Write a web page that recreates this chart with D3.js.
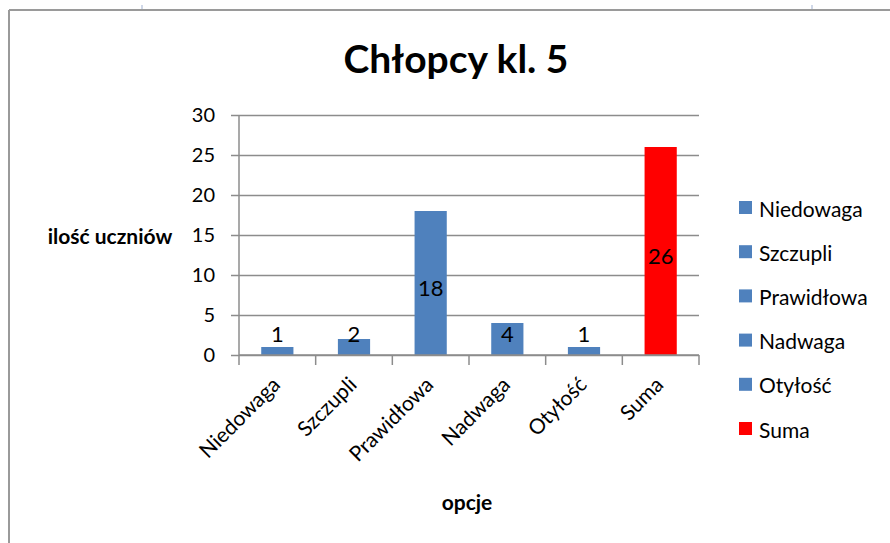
<!DOCTYPE html>
<html>
<head>
<meta charset="utf-8">
<script src="https://cdn.jsdelivr.net/npm/d3@7"></script>
<style>
  body { margin: 0; background: #fff; }
  text { font-family: Lato, "Open Sans", sans-serif; fill: #000; }
</style>
</head>
<body>
<div id="chart"></div>
<script>
// data
var categories = ["Niedowaga", "Szczupli", "Prawidłowa", "Nadwaga", "Otyłość", "Suma"];
var values = [1, 2, 18, 4, 1, 26];
var barColors = ["#4F81BD", "#4F81BD", "#4F81BD", "#4F81BD", "#4F81BD", "#FF0000"];
var yTicks = [0, 5, 10, 15, 20, 25, 30];

var svgWidth = 890;
var svgHeight = 543;

// plot area
var chartMargin = { top: 115, right: 191, bottom: 188, left: 239 };
var chartWidth = svgWidth - chartMargin.left - chartMargin.right;
var chartHeight = svgHeight - chartMargin.top - chartMargin.bottom;

var svg = d3.select("#chart")
    .append("svg")
    .attr("width", svgWidth)
    .attr("height", svgHeight);

// outer frame of the chart object (spreadsheet border)
svg.append("line")
    .attr("x1", 9).attr("x2", svgWidth).attr("y1", 10).attr("y2", 10)
    .attr("stroke", "#9a9a9a").attr("stroke-width", 2);
svg.append("line")
    .attr("x1", 9).attr("x2", 9).attr("y1", 10).attr("y2", svgHeight)
    .attr("stroke", "#9a9a9a").attr("stroke-width", 2);
[142, 812].forEach(function (x) {
    svg.append("line")
        .attr("x1", x).attr("x2", x).attr("y1", 5).attr("y2", 9)
        .attr("stroke", "#d0d8e8").attr("stroke-width", 2);
});

var chartGroup = svg.append("g")
    .attr("transform", `translate(${chartMargin.left}, ${chartMargin.top})`);

var x = d3.scaleBand()
    .domain(categories)
    .range([0, chartWidth])
    .paddingInner(0.58)
    .paddingOuter(0.29);

var y = d3.scaleLinear()
    .domain([0, 30])
    .range([chartHeight, 0]);

// gridlines + y axis
var yAxis = d3.axisLeft(y)
    .tickValues(yTicks)
    .tickSize(-chartWidth - 8);

var yG = chartGroup.append("g")
    .attr("transform", "translate(-8,0)")
    .call(yAxis);
yG.select(".domain").remove();
yG.selectAll(".tick line")
    .attr("stroke", "#8c8c8c").attr("stroke-width", 1.5);
yG.selectAll(".tick text")
    .style("font-size", "20px")
    .attr("x", -16);

// vertical axis line
chartGroup.append("line")
    .attr("x1", 0).attr("x2", 0).attr("y1", 0).attr("y2", chartHeight)
    .attr("stroke", "#8c8c8c").attr("stroke-width", 1.5);

// bars
chartGroup.selectAll(".bar")
    .data(values)
    .enter().append("rect")
    .attr("class", "bar")
    .attr("x", function (d, i) { return x(categories[i]); })
    .attr("y", function (d) { return y(d); })
    .attr("width", x.bandwidth())
    .attr("height", function (d) { return chartHeight - y(d); })
    .attr("fill", function (d, i) { return barColors[i]; });

// x axis
var xG = chartGroup.append("g")
    .attr("transform", `translate(0, ${chartHeight})`);
xG.append("line")
    .attr("x1", 0).attr("x2", chartWidth).attr("y1", 0).attr("y2", 0)
    .attr("stroke", "#8c8c8c").attr("stroke-width", 1.5);
d3.range(categories.length + 1).forEach(function (i) {
    xG.append("line")
        .attr("x1", i * chartWidth / categories.length)
        .attr("x2", i * chartWidth / categories.length)
        .attr("y1", 0).attr("y2", 10)
        .attr("stroke", "#8c8c8c").attr("stroke-width", 1.5);
});
xG.selectAll(".xlabel")
    .data(categories)
    .enter().append("text")
    .attr("class", "xlabel")
    .attr("text-anchor", "end")
    .style("font-size", "21px")
    .attr("transform", function (d) {
        var cx = x(d) + x.bandwidth() / 2 + 4;
        return `translate(${cx}, 31) rotate(-45)`;
    })
    .text(function (d) { return d; });

// data labels
chartGroup.selectAll(".vlabel")
    .data(values)
    .enter().append("text")
    .attr("class", "vlabel")
    .attr("text-anchor", "middle")
    .attr("dominant-baseline", "central")
    .style("font-size", "22px")
    .attr("x", function (d, i) { return x(categories[i]) + x.bandwidth() / 2; })
    .attr("y", function (d) { return Math.min(y(d / 2) + 4, chartHeight - 22); })
    .text(function (d) { return d; });

// title
svg.append("text")
    .attr("x", 456).attr("y", 73)
    .attr("text-anchor", "middle")
    .style("font-size", "39px").style("font-weight", "bold")
    .text("Chłopcy kl. 5");

// axis titles
svg.append("text")
    .attr("x", 110).attr("y", 244)
    .attr("text-anchor", "middle")
    .style("font-size", "21px").style("font-weight", "bold")
    .text("ilość uczniów");

svg.append("text")
    .attr("x", 467).attr("y", 510)
    .attr("text-anchor", "middle")
    .style("font-size", "21px").style("font-weight", "bold")
    .text("opcje");

// legend
var legend = svg.append("g").attr("transform", "translate(739, 207)");
var rows = legend.selectAll(".leg")
    .data(categories)
    .enter().append("g")
    .attr("transform", function (d, i) { return `translate(0, ${i * 44.2})`; });
rows.append("rect")
    .attr("x", 0).attr("y", -6).attr("width", 13).attr("height", 13)
    .attr("fill", function (d, i) { return barColors[i]; });
rows.append("text")
    .attr("x", 20).attr("y", 1)
    .attr("dominant-baseline", "central")
    .style("font-size", "21px")
    .text(function (d) { return d; });
</script>
</body>
</html>
